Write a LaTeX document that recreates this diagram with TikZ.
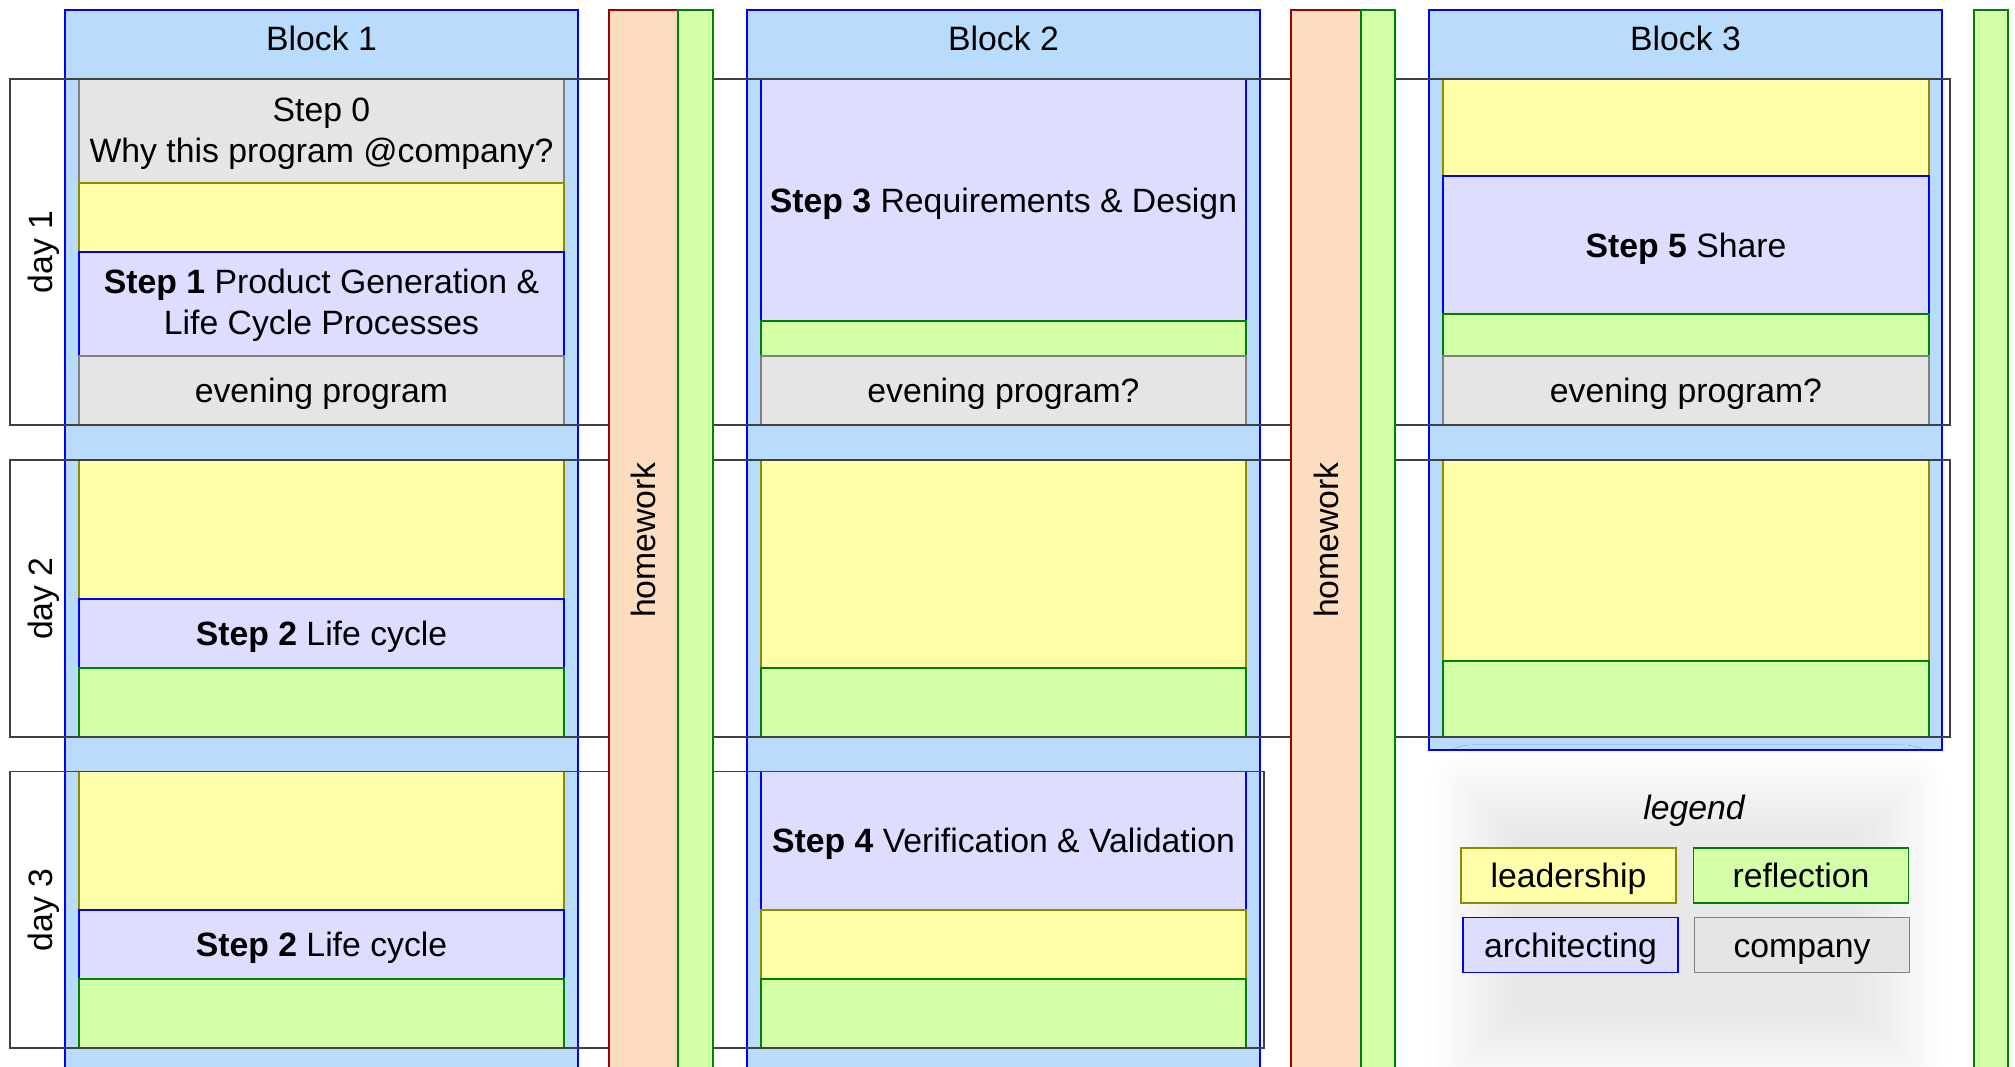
\documentclass[tikz,border=0pt]{standalone}
\usepackage{fontspec}
\setmainfont{Liberation Sans}
\usetikzlibrary{shadows.blur}

\definecolor{blockblue}{RGB}{185,219,252}
\definecolor{leadfill}{RGB}{255,255,170}
\definecolor{leadline}{RGB}{140,140,0}
\definecolor{reffill}{RGB}{211,255,168}
\definecolor{refline}{RGB}{0,128,0}
\definecolor{archfill}{RGB}{221,221,255}
\definecolor{compfill}{RGB}{229,229,229}
\definecolor{compline}{RGB}{128,128,128}
\definecolor{hwfill}{RGB}{253,221,192}
\definecolor{hwline}{RGB}{160,0,0}
\definecolor{dayline}{RGB}{64,64,64}

\begin{document}
\begin{tikzpicture}[x=0.01cm, y=-0.01cm,
    blk/.style={draw=blue, fill=blockblue, line width=0.45pt},
    lead/.style={draw=leadline, fill=leadfill, line width=0.35pt},
    refl/.style={draw=refline, fill=reffill, line width=0.35pt},
    arch/.style={draw=blue, fill=archfill, line width=0.35pt},
    comp/.style={draw=compline, fill=compfill, line width=0.35pt},
    hw/.style={draw=hwline, fill=hwfill, line width=0.4pt},
    dayrow/.style={draw=dayline, line width=0.5pt},
    txtm/.style={font=\fontsize{9.6}{11.6}\selectfont, align=center, inner sep=0pt},
    txt/.style={txtm, text height=8.4pt, text depth=1.5pt},
    legbox/.style={txt, minimum width=2.15cm, minimum height=0.55cm, line width=0.5pt}]
  \useasboundingbox (0,0) rectangle (2015,1067);

  % blocks
  \draw[blk] (65,10) rectangle (578,1090);
  \draw[blk] (747,10) rectangle (1260,1090);
  \draw[blk] (1429,10) rectangle (1942,750);
  \node[txt] (b1) at (321.5,38) {Block 1};
  \node[txt] (b2) at (1003.5,38) {Block 2};
  \node[txt] (b3) at (1685.5,38) {Block 3};

  % block 1
  \draw[comp] (79,79) rectangle (564,183);
  \draw[lead] (79,183) rectangle (564,252);
  \draw[arch] (79,252) rectangle (564,356);
  \draw[comp] (79,356) rectangle (564,425);
  \node[txtm] (s0) at (321.5,134) {Step 0\\Why this program @company?};
  \node[txtm] (s1) at (321.5,305.5) {\textbf{Step 1} Product Generation \&\\Life Cycle Processes};
  \node[txt] (ev1) at (321.5,390.5) {evening program};
  \draw[lead] (79,460) rectangle (564,599);
  \draw[arch] (79,599) rectangle (564,668);
  \draw[refl] (79,668) rectangle (564,737);
  \node[txt] (s2a) at (321.5,633.5) {\textbf{Step 2} Life cycle};
  \draw[lead] (79,771.5) rectangle (564,910);
  \draw[arch] (79,910) rectangle (564,979);
  \draw[refl] (79,979) rectangle (564,1048);
  \node[txt] (s2b) at (321.5,944.5) {\textbf{Step 2} Life cycle};

  % block 2
  \draw[arch] (761,79) rectangle (1246,321);
  \draw[refl] (761,321) rectangle (1246,356);
  \draw[comp] (761,356) rectangle (1246,425);
  \node[txt] (s3) at (1003.5,200) {\textbf{Step 3} Requirements \& Design};
  \node[txt] (ev2) at (1003.5,390.5) {evening program?};
  \draw[lead] (761,460) rectangle (1246,668);
  \draw[refl] (761,668) rectangle (1246,737);
  \draw[arch] (761,771.5) rectangle (1246,910);
  \draw[lead] (761,910) rectangle (1246,979);
  \draw[refl] (761,979) rectangle (1246,1048);
  \node[txt] (s4) at (1003.5,840.5) {\textbf{Step 4} Verification \& Validation};

  % block 3
  \draw[lead] (1443,79) rectangle (1929,176);
  \draw[arch] (1443,176) rectangle (1929,314);
  \draw[refl] (1443,314) rectangle (1929,356);
  \draw[comp] (1443,356) rectangle (1929,425);
  \node[txt] (s5) at (1686,245) {\textbf{Step 5} Share};
  \node[txt] (ev3) at (1686,390.5) {evening program?};
  \draw[lead] (1443,460) rectangle (1929,661);
  \draw[refl] (1443,661) rectangle (1929,737);

  % days
  \draw[dayrow] (10,79) rectangle (1950,425);
  \draw[dayrow] (10,460) rectangle (1950,737);
  \draw[dayrow] (10,771.5) rectangle (1264,1048);
  \node[txt, rotate=90] (d1) at (40,252) {day 1};
  \node[txt, rotate=90] (d2) at (40,598.5) {day 2};
  \node[txt, rotate=90] (d3) at (40,910) {day 3};

  % homework
  \draw[hw] (609,10) rectangle (678,1090);
  \draw[refl] (678,10) rectangle (713,1090);
  \draw[hw] (1291,10) rectangle (1361,1090);
  \draw[refl] (1361,10) rectangle (1395,1090);
  \draw[refl] (1974,10) rectangle (2008,1090);
  \node[txt, rotate=90] (hw1) at (643.5,540) {homework};
  \node[txt, rotate=90] (hw2) at (1326,540) {homework};

  % legend
  \path[blur shadow={shadow xshift=0cm, shadow yshift=0cm, shadow blur radius=0.45cm, shadow opacity=9, shadow blur steps=20}] (1472,790) rectangle (1903,1058);
  \node[txt, font=\fontsize{9.6}{11.6}\selectfont\itshape] (leg) at (1694,807) {legend};
  \node[legbox, lead] (legLead) at (1568.5,875.5) {leadership};
  \node[legbox, refl] (legRefl) at (1801,875.5) {reflection};
  \node[legbox, arch] (legArch) at (1570.5,945) {architecting};
  \node[legbox, comp] (legComp) at (1802,945) {company};
\end{tikzpicture}
\end{document}
